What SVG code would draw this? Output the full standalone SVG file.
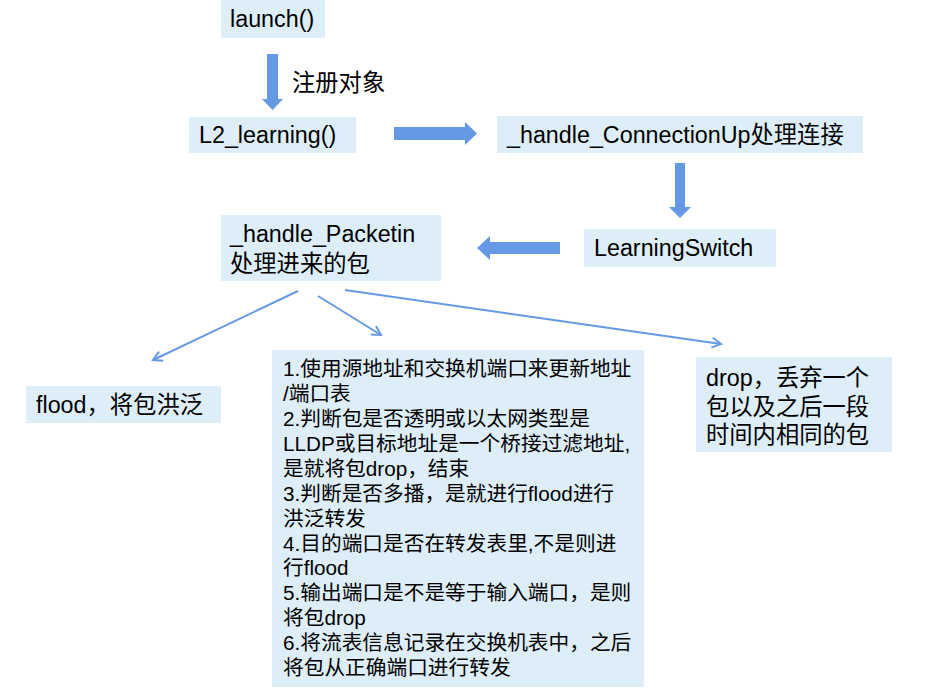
<svg xmlns="http://www.w3.org/2000/svg" width="949" height="690" viewBox="0 0 949 690">
<defs>
<style>
.box{fill:#DDEEF8;}
.t{font-family:"Liberation Sans","Noto Sans CJK SC",sans-serif;font-size:23.3px;fill:#000;}
.s{font-family:"Liberation Sans","Noto Sans CJK SC",sans-serif;font-size:20.7px;fill:#000;}
.block{fill:#6699E3;}
.line{stroke:#6699E3;stroke-width:2;fill:none;}
</style>
<marker id="open" viewBox="0 0 12 12" refX="10" refY="6" markerWidth="12" markerHeight="12" markerUnits="userSpaceOnUse" orient="auto">
<path d="M1,1 L10,6 L1,11" fill="none" stroke="#6699E3" stroke-width="2"/>
</marker>
</defs>
<rect width="949" height="690" fill="#fff"/>
<g id="connectors">
<polygon class="block" points="267,54 278,54 278,99 283,99 272.5,110 262,99 267,99"/>
<polygon class="block" points="394,127 465,127 465,122 477,133.5 465,145 465,140 394,140"/>
<polygon class="block" points="675,163 685,163 685,207 691,207 680,218 669,207 675,207"/>
<polygon class="block" points="560,242 490,242 490,236 477,248 490,260 490,254 560,254"/>
<line class="line" x1="298" y1="291" x2="153" y2="360" marker-end="url(#open)"/>
<line class="line" x1="318" y1="296" x2="381" y2="335" marker-end="url(#open)"/>
<line class="line" x1="345" y1="290" x2="721" y2="344" marker-end="url(#open)"/>
<text class="t" x="292" y="91">注册对象</text>
</g>
<g id="launch">
<rect class="box" x="221" y="0" width="104" height="38"/>
<text class="t" x="230" y="27">launch()</text>
</g>
<g id="l2learning">
<rect class="box" x="189" y="117" width="167" height="36"/>
<text class="t" x="199" y="143">L2_learning()</text>
</g>
<g id="connectionup">
<rect class="box" x="497" y="116" width="366" height="37"/>
<text class="t" x="507" y="143">_handle_ConnectionUp处理连接</text>
</g>
<g id="learningswitch">
<rect class="box" x="584" y="229" width="192" height="38"/>
<text class="t" x="594" y="256">LearningSwitch</text>
</g>
<g id="packetin">
<rect class="box" x="221" y="215" width="220" height="66"/>
<text class="t" x="230" y="242">_handle_Packetin</text>
<text class="t" x="230" y="272">处理进来的包</text>
</g>
<g id="flood">
<rect class="box" x="26" y="386" width="195" height="37"/>
<text class="t" x="36" y="413">flood，将包洪泛</text>
</g>
<g id="steps">
<rect class="box" x="272" y="350" width="372" height="337"/>
<text class="s" x="283" y="376">1.使用源地址和交换机端口来更新地址</text>
<text class="s" x="283" y="401">/端口表</text>
<text class="s" x="283" y="426">2.判断包是否透明或以太网类型是</text>
<text class="s" x="283" y="451">LLDP或目标地址是一个桥接过滤地址,</text>
<text class="s" x="283" y="476">是就将包drop，结束</text>
<text class="s" x="283" y="501">3.判断是否多播，是就进行flood进行</text>
<text class="s" x="283" y="526">洪泛转发</text>
<text class="s" x="283" y="551">4.目的端口是否在转发表里,不是则进</text>
<text class="s" x="283" y="575">行flood</text>
<text class="s" x="283" y="600">5.输出端口是不是等于输入端口，是则</text>
<text class="s" x="283" y="625">将包drop</text>
<text class="s" x="283" y="650">6.将流表信息记录在交换机表中，之后</text>
<text class="s" x="283" y="675">将包从正确端口进行转发</text>
</g>
<g id="drop">
<rect class="box" x="696" y="357" width="196" height="95"/>
<text class="t" x="706" y="386">drop，丢弃一个</text>
<text class="t" x="706" y="415">包以及之后一段</text>
<text class="t" x="706" y="443">时间内相同的包</text>
</g>
</svg>
